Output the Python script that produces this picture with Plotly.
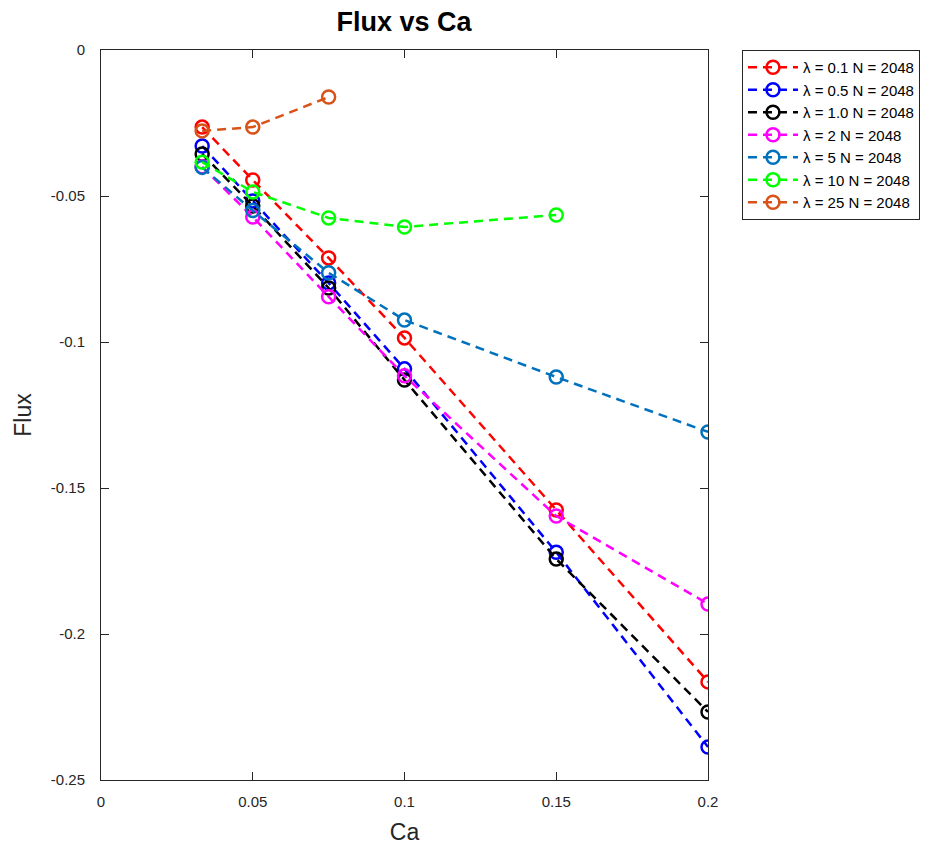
import plotly.graph_objects as go

ca = [1/30, 0.05, 0.075, 0.1, 0.15, 0.2]
ca_short3 = [1/30, 0.05, 0.075]
ca_green = [1/30, 0.05, 0.075, 0.1, 0.15]

flux_l01 = [-0.0264, -0.0445, -0.0712, -0.0986, -0.1575, -0.2164]
flux_l05 = [-0.0329, -0.0517, -0.0798, -0.1092, -0.1720, -0.2387]
flux_l1 = [-0.0356, -0.0534, -0.0815, -0.1130, -0.1743, -0.2267]
flux_l2 = [-0.0400, -0.0572, -0.0845, -0.1116, -0.1596, -0.1897]
flux_l5 = [-0.0402, -0.0550, -0.0763, -0.0925, -0.1120, -0.1308]
flux_l10 = [-0.0384, -0.0486, -0.0575, -0.0606, -0.0565]
flux_l25 = [-0.0277, -0.0264, -0.0161]

series = [
    ("λ = 0.1 N = 2048", ca, flux_l01, "#FF0000"),
    ("λ = 0.5 N = 2048", ca, flux_l05, "#0000FF"),
    ("λ = 1.0 N = 2048", ca, flux_l1, "#000000"),
    ("λ = 2 N = 2048", ca, flux_l2, "#FF00FF"),
    ("λ = 5 N = 2048", ca, flux_l5, "#0072BD"),
    ("λ = 10 N = 2048", ca_green, flux_l10, "#00FF00"),
    ("λ = 25 N = 2048", ca_short3, flux_l25, "#D95319"),
]

fig = go.Figure()
for name, xs, ys, col in series:
    fig.add_trace(go.Scatter(
        x=xs, y=ys, name=name, mode="lines+markers",
        line=dict(color=col, width=2.5, dash="9px,6px"),
        marker=dict(symbol="circle-open", size=13, color=col, line=dict(width=2.5, color=col)),
    ))

axis_common = dict(
    showgrid=False, zeroline=False, showline=True, linecolor="#262626", linewidth=1,
    mirror="ticks", ticks="inside", ticklen=8, tickcolor="#262626", automargin=False,
    tickfont=dict(family="Liberation Sans, Arial", size=15, color="#262626"),
)

fig.update_layout(
    width=952, height=847,
    margin=dict(l=101, r=244, t=50, b=67),
    paper_bgcolor="white", plot_bgcolor="white",
    title=dict(text="<b>Flux vs Ca</b>", x=0.4244, xanchor="center",
               y=0.975, yanchor="middle",
               font=dict(family="Liberation Sans, Arial", size=27, color="#000000")),
    xaxis=dict(range=[0, 0.2], tickvals=[0, 0.05, 0.1, 0.15, 0.2],
               ticktext=["0", "0.05", "0.1", "0.15", "0.2"], ticklabelstandoff=8,
               title=dict(text="Ca", font=dict(family="Liberation Sans, Arial", size=23, color="#262626"), standoff=14),
               **axis_common),
    yaxis=dict(range=[-0.25, 0], tickvals=[0, -0.05, -0.1, -0.15, -0.2, -0.25],
               ticktext=["0", "-0.05", "-0.1", "-0.15", "-0.2", "-0.25"], ticklabelstandoff=12,
               title=dict(text="Flux", font=dict(family="Liberation Sans, Arial", size=23, color="#262626"), standoff=12),
               **axis_common),
    legend=dict(x=1.056, y=1.0, xanchor="left", yanchor="top",
                bgcolor="white", bordercolor="#262626", borderwidth=1,
                font=dict(family="Liberation Sans, Arial", size=15, color="#000000"),
                tracegroupgap=0, itemsizing="trace", itemwidth=50),
    showlegend=True,
)

fig.write_html("out.html")
